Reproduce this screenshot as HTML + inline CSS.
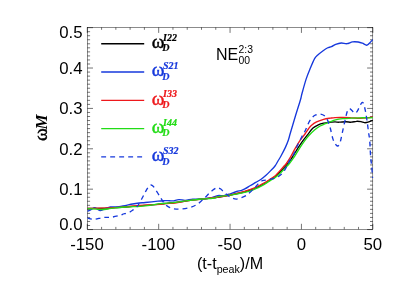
<!DOCTYPE html>
<html><head><meta charset="utf-8"><title>plot</title>
<style>
html,body{margin:0;padding:0;background:#fff;}
body{width:399px;height:285px;overflow:hidden;position:relative;font-family:"Liberation Sans",sans-serif;}

</style></head><body>
<svg width="399" height="285" viewBox="0 0 399 285" style="position:absolute;left:0;top:0;will-change:transform">
<rect width="399" height="285" fill="#fff"/>
<path d="M87.30,229.30 v-5.50 M87.30,27.40 v5.50 M101.58,229.30 v-2.40 M101.58,27.40 v2.40 M115.85,229.30 v-2.40 M115.85,27.40 v2.40 M130.12,229.30 v-2.40 M130.12,27.40 v2.40 M144.40,229.30 v-2.40 M144.40,27.40 v2.40 M158.68,229.30 v-5.50 M158.68,27.40 v5.50 M172.95,229.30 v-2.40 M172.95,27.40 v2.40 M187.22,229.30 v-2.40 M187.22,27.40 v2.40 M201.50,229.30 v-2.40 M201.50,27.40 v2.40 M215.77,229.30 v-2.40 M215.77,27.40 v2.40 M230.05,229.30 v-5.50 M230.05,27.40 v5.50 M244.32,229.30 v-2.40 M244.32,27.40 v2.40 M258.60,229.30 v-2.40 M258.60,27.40 v2.40 M272.88,229.30 v-2.40 M272.88,27.40 v2.40 M287.15,229.30 v-2.40 M287.15,27.40 v2.40 M301.43,229.30 v-5.50 M301.43,27.40 v5.50 M315.70,229.30 v-2.40 M315.70,27.40 v2.40 M329.98,229.30 v-2.40 M329.98,27.40 v2.40 M344.25,229.30 v-2.40 M344.25,27.40 v2.40 M358.53,229.30 v-2.40 M358.53,27.40 v2.40 M372.80,229.30 v-5.50 M372.80,27.40 v5.50 M87.30,229.55 h5.70 M372.80,229.55 h-5.70 M87.30,225.51 h2.80 M372.80,225.51 h-2.80 M87.30,221.47 h2.80 M372.80,221.47 h-2.80 M87.30,217.44 h2.80 M372.80,217.44 h-2.80 M87.30,213.40 h2.80 M372.80,213.40 h-2.80 M87.30,209.36 h2.80 M372.80,209.36 h-2.80 M87.30,205.32 h2.80 M372.80,205.32 h-2.80 M87.30,201.28 h2.80 M372.80,201.28 h-2.80 M87.30,197.25 h2.80 M372.80,197.25 h-2.80 M87.30,193.21 h2.80 M372.80,193.21 h-2.80 M87.30,189.17 h5.70 M372.80,189.17 h-5.70 M87.30,185.13 h2.80 M372.80,185.13 h-2.80 M87.30,181.09 h2.80 M372.80,181.09 h-2.80 M87.30,177.06 h2.80 M372.80,177.06 h-2.80 M87.30,173.02 h2.80 M372.80,173.02 h-2.80 M87.30,168.98 h2.80 M372.80,168.98 h-2.80 M87.30,164.94 h2.80 M372.80,164.94 h-2.80 M87.30,160.90 h2.80 M372.80,160.90 h-2.80 M87.30,156.87 h2.80 M372.80,156.87 h-2.80 M87.30,152.83 h2.80 M372.80,152.83 h-2.80 M87.30,148.79 h5.70 M372.80,148.79 h-5.70 M87.30,144.75 h2.80 M372.80,144.75 h-2.80 M87.30,140.71 h2.80 M372.80,140.71 h-2.80 M87.30,136.68 h2.80 M372.80,136.68 h-2.80 M87.30,132.64 h2.80 M372.80,132.64 h-2.80 M87.30,128.60 h2.80 M372.80,128.60 h-2.80 M87.30,124.56 h2.80 M372.80,124.56 h-2.80 M87.30,120.52 h2.80 M372.80,120.52 h-2.80 M87.30,116.49 h2.80 M372.80,116.49 h-2.80 M87.30,112.45 h2.80 M372.80,112.45 h-2.80 M87.30,108.41 h5.70 M372.80,108.41 h-5.70 M87.30,104.37 h2.80 M372.80,104.37 h-2.80 M87.30,100.33 h2.80 M372.80,100.33 h-2.80 M87.30,96.30 h2.80 M372.80,96.30 h-2.80 M87.30,92.26 h2.80 M372.80,92.26 h-2.80 M87.30,88.22 h2.80 M372.80,88.22 h-2.80 M87.30,84.18 h2.80 M372.80,84.18 h-2.80 M87.30,80.14 h2.80 M372.80,80.14 h-2.80 M87.30,76.11 h2.80 M372.80,76.11 h-2.80 M87.30,72.07 h2.80 M372.80,72.07 h-2.80 M87.30,68.03 h5.70 M372.80,68.03 h-5.70 M87.30,63.99 h2.80 M372.80,63.99 h-2.80 M87.30,59.95 h2.80 M372.80,59.95 h-2.80 M87.30,55.92 h2.80 M372.80,55.92 h-2.80 M87.30,51.88 h2.80 M372.80,51.88 h-2.80 M87.30,47.84 h2.80 M372.80,47.84 h-2.80 M87.30,43.80 h2.80 M372.80,43.80 h-2.80 M87.30,39.76 h2.80 M372.80,39.76 h-2.80 M87.30,35.73 h2.80 M372.80,35.73 h-2.80 M87.30,31.69 h2.80 M372.80,31.69 h-2.80 M87.30,27.65 h5.70 M372.80,27.65 h-5.70" stroke="#000" stroke-width="0.55" fill="none"/>
<rect x="87.30" y="27.40" width="285.50" height="201.90" fill="none" stroke="#000" stroke-width="0.45"/>
<clipPath id="c"><rect x="87.30" y="27.40" width="286.00" height="201.90"/></clipPath>
<g clip-path="url(#c)" fill="none" stroke-width="1.35" stroke-linejoin="round">
<path d="M87.30,208.50 C89.47,208.48 95.65,208.55 100.30,208.40 C104.95,208.25 111.08,207.83 115.20,207.60 C119.32,207.37 120.87,207.30 125.00,207.00 C129.13,206.70 135.50,206.15 140.00,205.80 C144.50,205.45 148.67,205.20 152.00,204.90 C155.33,204.60 157.83,204.23 160.00,204.00 C162.17,203.77 161.67,203.85 165.00,203.50 C168.33,203.15 175.78,202.43 180.00,201.90 C184.22,201.37 186.48,200.78 190.30,200.30 C194.12,199.82 198.78,199.43 202.90,199.00 C207.02,198.57 210.43,198.37 215.00,197.70 C219.57,197.03 226.13,195.78 230.30,195.00 C234.47,194.22 236.63,193.83 240.00,193.00 C243.37,192.17 247.87,190.83 250.50,190.00 C253.13,189.17 254.03,188.78 255.80,188.00 C257.57,187.22 259.35,186.23 261.10,185.30 C262.85,184.37 264.55,183.47 266.30,182.40 C268.05,181.33 270.15,179.83 271.60,178.90 C273.05,177.97 273.75,177.82 275.00,176.80 C276.25,175.78 277.55,174.37 279.10,172.80 C280.65,171.23 282.75,169.07 284.30,167.40 C285.85,165.73 287.00,164.60 288.40,162.80 C289.80,161.00 291.15,159.00 292.70,156.60 C294.25,154.20 296.05,150.98 297.70,148.40 C299.35,145.82 300.97,143.37 302.60,141.10 C304.23,138.83 305.77,136.97 307.50,134.80 C309.23,132.63 311.20,129.75 313.00,128.10 C314.80,126.45 316.53,125.72 318.30,124.90 C320.07,124.08 321.83,123.63 323.60,123.20 C325.37,122.77 327.00,122.52 328.90,122.30 C330.80,122.08 333.32,121.92 335.00,121.90 C336.68,121.88 337.17,122.23 339.00,122.20 C340.83,122.17 343.95,121.70 346.00,121.70 C348.05,121.70 349.53,122.27 351.30,122.20 C353.07,122.13 354.98,121.38 356.60,121.30 C358.22,121.22 359.68,121.47 361.00,121.70 C362.32,121.93 363.33,122.62 364.50,122.70 C365.67,122.78 366.62,122.60 368.00,122.20 C369.38,121.80 372.00,120.62 372.80,120.30" stroke="#000000"/>
<path d="M87.30,211.30 C87.92,211.02 89.77,210.20 91.00,209.60 C92.23,209.00 93.62,207.77 94.70,207.70 C95.78,207.63 96.57,208.73 97.50,209.20 C98.43,209.67 99.05,210.57 100.30,210.50 C101.55,210.43 103.32,209.38 105.00,208.80 C106.68,208.22 108.65,207.30 110.40,207.00 C112.15,206.70 113.90,207.08 115.50,207.00 C117.10,206.92 118.42,206.72 120.00,206.50 C121.58,206.28 122.90,206.12 125.00,205.70 C127.10,205.28 130.22,204.45 132.60,204.00 C134.98,203.55 137.18,203.25 139.30,203.00 C141.42,202.75 142.20,202.80 145.30,202.50 C148.40,202.20 154.62,201.50 157.90,201.20 C161.18,200.90 163.32,200.80 165.00,200.70 C166.68,200.60 166.73,200.57 168.00,200.60 C169.27,200.63 170.78,201.07 172.60,200.90 C174.42,200.73 176.80,199.70 178.90,199.60 C181.00,199.50 182.88,200.37 185.20,200.30 C187.52,200.23 190.07,199.42 192.80,199.20 C195.53,198.98 198.73,199.20 201.60,199.00 C204.47,198.80 207.33,198.57 210.00,198.00 C212.67,197.43 215.27,196.00 217.60,195.60 C219.93,195.20 221.88,195.90 224.00,195.60 C226.12,195.30 228.20,194.48 230.30,193.80 C232.40,193.12 234.72,192.07 236.60,191.50 C238.48,190.93 240.15,190.87 241.60,190.40 C243.05,189.93 243.82,189.52 245.30,188.70 C246.78,187.88 248.75,186.55 250.50,185.50 C252.25,184.45 254.03,183.45 255.80,182.40 C257.57,181.35 259.35,180.43 261.10,179.20 C262.85,177.97 264.55,176.58 266.30,175.00 C268.05,173.42 270.15,171.20 271.60,169.70 C273.05,168.20 273.93,167.45 275.00,166.00 C276.07,164.55 276.98,162.70 278.00,161.00 C279.02,159.30 279.87,158.07 281.10,155.80 C282.33,153.53 284.18,150.03 285.40,147.40 C286.62,144.77 287.58,142.35 288.40,140.00 C289.22,137.65 289.12,137.33 290.30,133.30 C291.48,129.27 293.82,121.35 295.50,115.80 C297.18,110.25 299.32,103.72 300.40,100.00 C301.48,96.28 301.03,97.02 302.00,93.50 C302.97,89.98 304.80,83.13 306.20,78.90 C307.60,74.67 309.00,71.47 310.40,68.10 C311.80,64.73 313.42,60.83 314.60,58.70 C315.78,56.57 316.08,56.62 317.50,55.30 C318.92,53.98 321.47,52.02 323.10,50.80 C324.73,49.58 325.90,48.70 327.30,48.00 C328.70,47.30 330.10,47.22 331.50,46.60 C332.90,45.98 334.07,44.90 335.70,44.30 C337.33,43.70 339.43,43.10 341.30,43.00 C343.17,42.90 345.03,43.88 346.90,43.70 C348.77,43.52 350.62,42.18 352.50,41.90 C354.38,41.62 356.55,41.78 358.20,42.00 C359.85,42.22 361.00,42.67 362.40,43.20 C363.80,43.73 365.43,45.20 366.60,45.20 C367.77,45.20 368.37,44.13 369.40,43.20 C370.43,42.27 372.23,40.20 372.80,39.60" stroke="#1638dc"/>
<path d="M87.30,208.40 C89.47,208.37 95.65,208.32 100.30,208.20 C104.95,208.08 111.08,207.92 115.20,207.70 C119.32,207.48 120.87,207.28 125.00,206.90 C129.13,206.52 135.50,205.77 140.00,205.40 C144.50,205.03 148.67,204.87 152.00,204.70 C155.33,204.53 157.83,204.57 160.00,204.40 C162.17,204.23 162.50,203.93 165.00,203.70 C167.50,203.47 172.50,203.28 175.00,203.00 C177.50,202.72 177.45,202.45 180.00,202.00 C182.55,201.55 186.48,200.80 190.30,200.30 C194.12,199.80 198.78,199.47 202.90,199.00 C207.02,198.53 210.43,198.17 215.00,197.50 C219.57,196.83 226.13,195.82 230.30,195.00 C234.47,194.18 236.63,193.53 240.00,192.60 C243.37,191.67 247.87,190.28 250.50,189.40 C253.13,188.52 254.03,188.12 255.80,187.30 C257.57,186.48 259.35,185.42 261.10,184.50 C262.85,183.58 264.55,182.85 266.30,181.80 C268.05,180.75 270.15,179.15 271.60,178.20 C273.05,177.25 273.75,177.20 275.00,176.10 C276.25,175.00 277.55,173.32 279.10,171.60 C280.65,169.88 283.15,167.07 284.30,165.80 C285.45,164.53 285.00,165.40 286.00,164.00 C287.00,162.60 288.77,160.00 290.30,157.40 C291.83,154.80 293.57,151.23 295.20,148.40 C296.83,145.57 298.47,142.80 300.10,140.40 C301.73,138.00 303.57,135.98 305.00,134.00 C306.43,132.02 307.65,129.93 308.70,128.50 C309.75,127.07 309.98,126.50 311.30,125.40 C312.62,124.30 314.55,122.92 316.60,121.90 C318.65,120.88 321.27,119.93 323.60,119.30 C325.93,118.67 328.70,118.38 330.60,118.10 C332.50,117.82 333.02,117.70 335.00,117.60 C336.98,117.50 339.78,117.47 342.50,117.50 C345.22,117.53 348.37,117.68 351.30,117.80 C354.23,117.92 357.47,118.20 360.10,118.20 C362.73,118.20 364.98,118.02 367.10,117.80 C369.22,117.58 371.85,117.05 372.80,116.90" stroke="#ee181c"/>
<path d="M87.30,208.60 C88.42,208.65 91.72,208.75 94.00,208.90 C96.28,209.05 98.67,209.48 101.00,209.50 C103.33,209.52 105.63,209.28 108.00,209.00 C110.37,208.72 112.37,208.13 115.20,207.80 C118.03,207.47 122.10,207.18 125.00,207.00 C127.90,206.82 130.10,206.82 132.60,206.70 C135.10,206.58 137.10,206.53 140.00,206.30 C142.90,206.07 146.67,205.73 150.00,205.30 C153.33,204.87 157.50,204.03 160.00,203.70 C162.50,203.37 162.07,203.57 165.00,203.30 C167.93,203.03 173.38,202.60 177.60,202.10 C181.82,201.60 186.08,200.82 190.30,200.30 C194.52,199.78 198.78,199.38 202.90,199.00 C207.02,198.62 212.55,198.35 215.00,198.00 C217.45,197.65 215.05,197.38 217.60,196.90 C220.15,196.42 226.57,195.68 230.30,195.10 C234.03,194.52 236.63,194.12 240.00,193.40 C243.37,192.68 247.87,191.58 250.50,190.80 C253.13,190.02 254.03,189.48 255.80,188.70 C257.57,187.92 259.35,187.03 261.10,186.10 C262.85,185.17 264.55,184.17 266.30,183.10 C268.05,182.03 270.15,180.62 271.60,179.70 C273.05,178.78 273.75,178.52 275.00,177.60 C276.25,176.68 277.55,175.65 279.10,174.20 C280.65,172.75 282.55,170.73 284.30,168.90 C286.05,167.07 287.88,165.28 289.60,163.20 C291.32,161.12 292.95,158.87 294.60,156.40 C296.25,153.93 297.87,150.95 299.50,148.40 C301.13,145.85 302.87,143.20 304.40,141.10 C305.93,139.00 306.97,137.68 308.70,135.80 C310.43,133.92 312.90,131.43 314.80,129.80 C316.70,128.17 318.33,127.02 320.10,126.00 C321.87,124.98 323.70,124.42 325.40,123.70 C327.10,122.98 328.62,122.33 330.30,121.70 C331.98,121.07 333.47,120.40 335.50,119.90 C337.53,119.40 339.87,118.98 342.50,118.70 C345.13,118.42 348.37,118.35 351.30,118.20 C354.23,118.05 357.17,117.87 360.10,117.80 C363.03,117.73 366.78,117.85 368.90,117.80 C371.02,117.75 372.15,117.55 372.80,117.50" stroke="#22dc16"/>
<path d="M87.30,217.90 C88.42,218.15 91.37,219.47 94.00,219.40 C96.63,219.33 100.08,217.88 103.10,217.50 C106.12,217.12 109.08,217.52 112.10,217.10 C115.12,216.68 119.47,215.47 121.20,215.00 C122.93,214.53 121.25,214.72 122.50,214.30 C123.75,213.88 127.02,213.17 128.70,212.50 C130.38,211.83 131.32,211.20 132.60,210.30 C133.88,209.40 135.35,208.15 136.40,207.10 C137.45,206.05 137.73,205.88 138.90,204.00 C140.07,202.12 142.03,198.33 143.40,195.80 C144.77,193.27 146.08,190.47 147.10,188.80 C148.12,187.13 148.87,186.43 149.50,185.80 C150.13,185.17 150.43,185.03 150.90,185.00 C151.37,184.97 151.67,185.07 152.30,185.60 C152.93,186.13 153.45,186.40 154.70,188.20 C155.95,190.00 158.22,193.87 159.80,196.40 C161.38,198.93 163.00,201.82 164.20,203.40 C165.40,204.98 166.03,205.20 167.00,205.90 C167.97,206.60 168.87,207.12 170.00,207.60 C171.13,208.08 172.10,208.55 173.80,208.80 C175.50,209.05 177.67,209.27 180.20,209.10 C182.73,208.93 186.27,208.53 189.00,207.80 C191.73,207.07 194.28,206.07 196.60,204.70 C198.92,203.33 200.80,201.50 202.90,199.60 C205.00,197.70 207.58,194.85 209.20,193.30 C210.82,191.75 211.55,191.13 212.60,190.30 C213.65,189.47 214.67,188.73 215.50,188.30 C216.33,187.87 216.72,187.58 217.60,187.70 C218.48,187.82 219.75,188.27 220.80,189.00 C221.85,189.73 222.75,191.05 223.90,192.10 C225.05,193.15 226.33,194.30 227.70,195.30 C229.07,196.30 230.62,197.47 232.10,198.10 C233.58,198.73 235.02,199.18 236.60,199.10 C238.18,199.02 239.92,198.23 241.60,197.60 C243.28,196.97 245.48,196.00 246.70,195.30 C247.92,194.60 247.93,194.28 248.90,193.40 C249.87,192.52 251.35,191.12 252.50,190.00 C253.65,188.88 254.80,187.78 255.80,186.70 C256.80,185.62 257.53,184.45 258.50,183.50 C259.47,182.55 260.68,181.53 261.60,181.00 C262.52,180.47 263.10,180.47 264.00,180.30 C264.90,180.13 265.92,180.18 267.00,180.00 C268.08,179.82 269.25,179.47 270.50,179.20 C271.75,178.93 273.17,178.85 274.50,178.40 C275.83,177.95 277.25,177.30 278.50,176.50 C279.75,175.70 280.95,174.72 282.00,173.60 C283.05,172.48 283.88,171.23 284.80,169.80 C285.72,168.37 286.65,166.62 287.50,165.00 C288.35,163.38 288.78,162.05 289.90,160.10 C291.02,158.15 292.98,155.65 294.20,153.30 C295.42,150.95 296.03,148.55 297.20,146.00 C298.37,143.45 299.87,140.55 301.20,138.00 C302.53,135.45 303.95,133.23 305.20,130.70 C306.45,128.17 307.53,125.00 308.70,122.80 C309.87,120.60 311.03,118.82 312.20,117.50 C313.37,116.18 314.38,115.48 315.70,114.90 C317.02,114.32 318.63,113.85 320.10,114.00 C321.57,114.15 323.25,114.73 324.50,115.80 C325.75,116.87 326.63,118.32 327.60,120.40 C328.57,122.48 329.42,125.22 330.30,128.30 C331.18,131.38 332.03,136.27 332.90,138.90 C333.77,141.53 334.73,142.92 335.50,144.10 C336.27,145.28 336.77,146.15 337.50,146.00 C338.23,145.85 339.07,145.57 339.90,143.20 C340.73,140.83 341.62,135.73 342.50,131.80 C343.38,127.87 344.37,123.10 345.20,119.60 C346.03,116.10 346.77,112.62 347.50,110.80 C348.23,108.98 348.82,108.70 349.60,108.70 C350.38,108.70 351.33,110.02 352.20,110.80 C353.07,111.58 353.92,113.40 354.80,113.40 C355.68,113.40 356.62,112.12 357.50,110.80 C358.38,109.48 359.32,106.90 360.10,105.50 C360.88,104.10 361.57,102.55 362.20,102.40 C362.83,102.25 363.32,102.92 363.90,104.60 C364.48,106.28 365.17,109.72 365.70,112.50 C366.23,115.28 366.63,118.08 367.10,121.30 C367.57,124.52 368.07,128.58 368.50,131.80 C368.93,135.02 369.35,136.52 369.70,140.60 C370.05,144.68 370.30,152.28 370.60,156.30 C370.90,160.32 371.18,161.53 371.50,164.70 C371.82,167.87 372.28,173.08 372.50,175.30 C372.72,177.52 372.75,177.55 372.80,178.00" stroke="#1638dc" stroke-dasharray="4.7 4.0"/>
</g>
<path d="M101.2,43.70 H144.2" stroke="#000000" stroke-width="1.35"/>
<text x="151.7" y="47.90" fill="#000000" stroke="#000000" stroke-width="0.45" font-family="Liberation Serif" font-size="19.3">ω</text>
<text x="162.3" y="51.40" fill="#000000" font-family="Liberation Serif" font-size="10" font-weight="bold" font-style="italic" stroke="#000000" stroke-width="0.2">D</text>
<text x="163" y="40.70" fill="#000000" font-family="Liberation Serif" font-size="10" font-weight="bold" font-style="italic" stroke="#000000" stroke-width="0.2">I22</text>
<path d="M101.2,72.00 H144.2" stroke="#1638dc" stroke-width="1.35"/>
<text x="151.7" y="76.20" fill="#1638dc" stroke="#1638dc" stroke-width="0.45" font-family="Liberation Serif" font-size="19.3">ω</text>
<text x="162.3" y="79.70" fill="#1638dc" font-family="Liberation Serif" font-size="10" font-weight="bold" font-style="italic" stroke="#1638dc" stroke-width="0.2">D</text>
<text x="163" y="69.00" fill="#1638dc" font-family="Liberation Serif" font-size="10" font-weight="bold" font-style="italic" stroke="#1638dc" stroke-width="0.2">S21</text>
<path d="M101.2,100.30 H144.2" stroke="#ee181c" stroke-width="1.35"/>
<text x="151.7" y="104.50" fill="#ee181c" stroke="#ee181c" stroke-width="0.45" font-family="Liberation Serif" font-size="19.3">ω</text>
<text x="162.3" y="108.00" fill="#ee181c" font-family="Liberation Serif" font-size="10" font-weight="bold" font-style="italic" stroke="#ee181c" stroke-width="0.2">D</text>
<text x="163" y="97.30" fill="#ee181c" font-family="Liberation Serif" font-size="10" font-weight="bold" font-style="italic" stroke="#ee181c" stroke-width="0.2">I33</text>
<path d="M101.2,128.60 H144.2" stroke="#22dc16" stroke-width="1.35"/>
<text x="151.7" y="132.80" fill="#22dc16" stroke="#22dc16" stroke-width="0.45" font-family="Liberation Serif" font-size="19.3">ω</text>
<text x="162.3" y="136.30" fill="#22dc16" font-family="Liberation Serif" font-size="10" font-weight="bold" font-style="italic" stroke="#22dc16" stroke-width="0.2">D</text>
<text x="163" y="125.60" fill="#22dc16" font-family="Liberation Serif" font-size="10" font-weight="bold" font-style="italic" stroke="#22dc16" stroke-width="0.2">I44</text>
<path d="M101.2,156.90 H144.2" stroke="#1638dc" stroke-width="1.35" stroke-dasharray="4.9 4.1"/>
<text x="151.7" y="161.10" fill="#1638dc" stroke="#1638dc" stroke-width="0.45" font-family="Liberation Serif" font-size="19.3">ω</text>
<text x="162.3" y="164.60" fill="#1638dc" font-family="Liberation Serif" font-size="10" font-weight="bold" font-style="italic" stroke="#1638dc" stroke-width="0.2">D</text>
<text x="163" y="153.90" fill="#1638dc" font-family="Liberation Serif" font-size="10" font-weight="bold" font-style="italic" stroke="#1638dc" stroke-width="0.2">S32</text>
<text x="82.5" y="37.80" text-anchor="end" font-family="Liberation Sans" font-size="16.8" fill="#000">0.5</text>
<text x="82.5" y="73.80" text-anchor="end" font-family="Liberation Sans" font-size="16.8" fill="#000">0.4</text>
<text x="82.5" y="114.20" text-anchor="end" font-family="Liberation Sans" font-size="16.8" fill="#000">0.3</text>
<text x="82.5" y="154.60" text-anchor="end" font-family="Liberation Sans" font-size="16.8" fill="#000">0.2</text>
<text x="82.5" y="194.90" text-anchor="end" font-family="Liberation Sans" font-size="16.8" fill="#000">0.1</text>
<text x="82.5" y="230.00" text-anchor="end" font-family="Liberation Sans" font-size="16.8" fill="#000">0.0</text>
<text x="87.00" y="250.3" text-anchor="middle" font-family="Liberation Sans" font-size="16.8" fill="#000">-150</text>
<text x="158.38" y="250.3" text-anchor="middle" font-family="Liberation Sans" font-size="16.8" fill="#000">-100</text>
<text x="229.75" y="250.3" text-anchor="middle" font-family="Liberation Sans" font-size="16.8" fill="#000">-50</text>
<text x="301.43" y="250.3" text-anchor="middle" font-family="Liberation Sans" font-size="16.8" fill="#000">0</text>
<text x="372.80" y="250.3" text-anchor="middle" font-family="Liberation Sans" font-size="16.8" fill="#000">50</text>
<text x="197.0" y="269.2" font-family="Liberation Sans" font-size="16.1" fill="#000">(t-t<tspan font-size="10.7" dy="3.5">peak</tspan><tspan dy="-3.5">)/M</tspan></text>
<text x="215.9" y="59.5" font-family="Liberation Sans" font-size="16" fill="#000">NE</text>
<text x="238.5" y="63.5" font-family="Liberation Sans" font-size="10.4" fill="#000">00</text>
<text x="238.6" y="52.6" font-family="Liberation Sans" font-size="10.4" fill="#000">2:3</text>
<g transform="translate(47.1,141.0) rotate(-90)"><text x="0" y="0" font-family="Liberation Serif" font-size="19.5" fill="#000" stroke="#000" stroke-width="0.4">ω</text><text x="11.6" y="0" font-family="Liberation Serif" font-size="17" font-weight="bold" font-style="italic" fill="#000">M</text></g>
</svg>
</body></html>
